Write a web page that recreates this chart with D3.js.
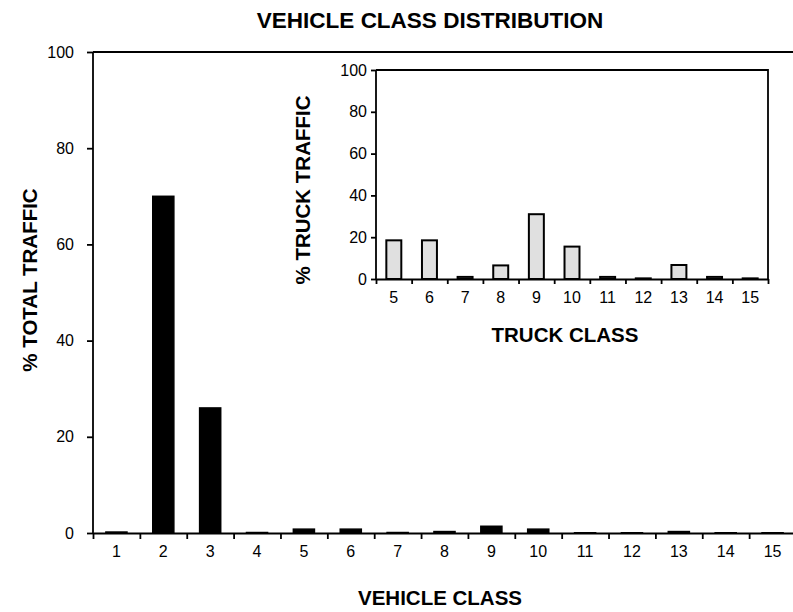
<!DOCTYPE html>
<html>
<head>
<meta charset="utf-8">
<script src="https://cdn.jsdelivr.net/npm/d3@7"></script>
<style>
  body { margin: 0; background: #fff; }
  svg text { font-family: "Liberation Sans", Arial, sans-serif; fill: #000; }
  .axis path, .axis line { stroke: #000; stroke-width: 1.8; }
  .axis text { font-size: 16px; }
  .label { font-size: 20.5px; font-weight: bold; }
</style>
</head>
<body>
<script>
// Main chart data
const vehicleClasses = ["1","2","3","4","5","6","7","8","9","10","11","12","13","14","15"];
const totalPct = [0.2, 70, 26, 0.1, 0.8, 0.8, 0.1, 0.3, 1.4, 0.8, 0.05, 0.05, 0.3, 0.05, 0.05];
const mainTicks = [0, 20, 40, 60, 80, 100];

// Inset data
const truckClasses = ["5","6","7","8","9","10","11","12","13","14","15"];
const truckPct = [18.5, 18.5, 1, 6.5, 31, 15.5, 1, 0.3, 6.7, 1, 0.3];
const insetTicks = [0, 20, 40, 60, 80, 100];

const w = 793, h = 612;

const svg = d3.select("body").append("svg")
    .attr("width", w)
    .attr("height", h);

// Title
svg.append("text")
    .attr("x", 430).attr("y", 28)
    .attr("text-anchor", "middle")
    .style("font-size", "22.5px").style("font-weight", "bold")
    .text("VEHICLE CLASS DISTRIBUTION");

// ---------- main chart ----------
const m = { left: 93, right: 796, top: 52, bottom: 533 };

const x = d3.scaleBand().domain(vehicleClasses).range([m.left, m.right]).padding(0);
const xEdge = d3.scaleLinear().domain([0, vehicleClasses.length]).range([m.left, m.right]);
const y = d3.scaleLinear().domain([0, 100]).range([m.bottom, m.top]);

// top border
svg.append("line")
    .attr("x1", m.left).attr("x2", m.right)
    .attr("y1", m.top).attr("y2", m.top)
    .attr("stroke", "#000").attr("stroke-width", 1.8);

const barW = x.bandwidth() * 0.45;
svg.append("g").selectAll("rect")
    .data(totalPct)
    .join("rect")
    .attr("x", (d, i) => x(vehicleClasses[i]) + (x.bandwidth() - barW) / 2)
    .attr("y", d => y(d))
    .attr("width", barW)
    .attr("height", d => y(0) - y(d))
    .attr("fill", "#000")
    .attr("stroke", "#000")
    .attr("stroke-width", 1.5);

svg.append("g")
    .attr("class", "axis")
    .attr("transform", `translate(${m.left},0)`)
    .call(d3.axisLeft(y).tickValues(mainTicks).tickSize(6).tickPadding(13))
    .call(g => g.select(".domain").attr("d", `M0,${m.top}V${m.bottom}`));

// boundary ticks
svg.append("g")
    .attr("class", "axis")
    .attr("transform", `translate(0,${m.bottom})`)
    .call(d3.axisBottom(xEdge).tickValues(d3.range(vehicleClasses.length + 1)).tickFormat("").tickSize(6).tickSizeOuter(0));

// category labels
svg.append("g")
    .attr("class", "axis")
    .attr("transform", `translate(0,${m.bottom})`)
    .call(d3.axisBottom(x).tickSize(0).tickPadding(13))
    .call(g => g.select(".domain").remove());

svg.append("text")
    .attr("class", "label")
    .attr("x", 440).attr("y", 605)
    .attr("text-anchor", "middle")
    .text("VEHICLE CLASS");

svg.append("text")
    .attr("class", "label")
    .attr("transform", "translate(36.5,280) rotate(-90)")
    .attr("text-anchor", "middle")
    .text("% TOTAL TRAFFIC");

// ---------- inset chart ----------
const n = { left: 376, right: 768, top: 70, bottom: 279 };

const xi = d3.scaleBand().domain(truckClasses).range([n.left, n.right]).padding(0);
const xiEdge = d3.scaleLinear().domain([0, truckClasses.length]).range([n.left, n.right]);
const yi = d3.scaleLinear().domain([0, 100]).range([n.bottom, n.top]);

svg.append("path")
    .attr("d", `M${n.left},${n.top}H${n.right}V${n.bottom}`)
    .attr("fill", "none")
    .attr("stroke", "#000").attr("stroke-width", 1.8);

const barWi = xi.bandwidth() * 0.42;
svg.append("g").selectAll("rect")
    .data(truckPct)
    .join("rect")
    .attr("x", (d, i) => xi(truckClasses[i]) + (xi.bandwidth() - barWi) / 2)
    .attr("y", d => yi(d))
    .attr("width", barWi)
    .attr("height", d => yi(0) - yi(d))
    .attr("fill", "#e0e0e0")
    .attr("stroke", "#000")
    .attr("stroke-width", 2);

svg.append("g")
    .attr("class", "axis")
    .attr("transform", `translate(${n.left},0)`)
    .call(d3.axisLeft(yi).tickValues(insetTicks).tickSize(5).tickPadding(4))
    .call(g => g.select(".domain").attr("d", `M0,${n.top}V${n.bottom}`));

svg.append("g")
    .attr("class", "axis")
    .attr("transform", `translate(0,${n.bottom})`)
    .call(d3.axisBottom(xiEdge).tickValues(d3.range(truckClasses.length + 1)).tickFormat("").tickSize(5).tickSizeOuter(0));

svg.append("g")
    .attr("class", "axis")
    .attr("transform", `translate(0,${n.bottom})`)
    .call(d3.axisBottom(xi).tickSize(0).tickPadding(13))
    .call(g => g.select(".domain").remove());

svg.append("text")
    .attr("class", "label")
    .attr("x", 565).attr("y", 342)
    .attr("text-anchor", "middle")
    .text("TRUCK CLASS");

svg.append("text")
    .attr("class", "label")
    .attr("transform", "translate(310,190) rotate(-90)")
    .attr("text-anchor", "middle")
    .text("% TRUCK TRAFFIC");
</script>
</body>
</html>
